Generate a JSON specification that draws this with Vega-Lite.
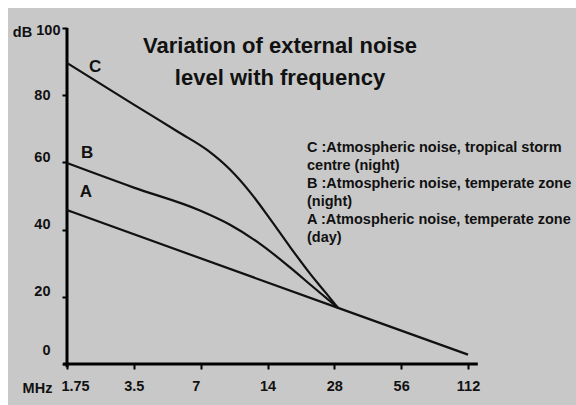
{
  "$schema": "https://vega.github.io/schema/vega-lite/v6.json",
  "width": 568,
  "height": 397,
  "autosize": {"type": "none"},
  "padding": {"left": 8, "top": 8, "right": 0, "bottom": 0},
  "background": "white",
  "config": {
    "view": {"fill": "#c8c8c8", "stroke": null},
    "font": "Liberation Sans"
  },
  "title": {
    "text": ["Variation of external noise", "level with frequency"],
    "anchor": "middle",
    "frame": "group",
    "font": "Liberation Sans",
    "fontSize": 22,
    "fontWeight": "bold",
    "color": "#111111",
    "lineHeight": 32,
    "baseline": "top",
    "offset": 0,
    "dx": -12,
    "dy": 82
  },
  "datasets": {
    "curves": [
      {"series": "A", "f": 1.75, "db": 45.8},
      {"series": "A", "f": 29.1, "db": 16.7},
      {"series": "A", "f": 112, "db": 2.8},
      {"series": "B", "f": 1.75, "db": 59.8},
      {"series": "B", "f": 3.5, "db": 52.5},
      {"series": "B", "f": 6.95, "db": 45.68},
      {"series": "B", "f": 9.49, "db": 41.44},
      {"series": "B", "f": 12.96, "db": 35.77},
      {"series": "B", "f": 17.68, "db": 28.76},
      {"series": "B", "f": 22.68, "db": 22.69},
      {"series": "B", "f": 29.1, "db": 16.7},
      {"series": "C", "f": 1.75, "db": 89.6},
      {"series": "C", "f": 3.5, "db": 77.2},
      {"series": "C", "f": 5.6, "db": 68.9},
      {"series": "C", "f": 7.48, "db": 63.7},
      {"series": "C", "f": 9.49, "db": 57.86},
      {"series": "C", "f": 11.68, "db": 51.16},
      {"series": "C", "f": 14.37, "db": 43.21},
      {"series": "C", "f": 17.68, "db": 34.88},
      {"series": "C", "f": 21.76, "db": 26.9},
      {"series": "C", "f": 25.42, "db": 21.46},
      {"series": "C", "f": 29.1, "db": 16.7}
    ],
    "labels": [
      {"label": "C", "f": 2.34, "db": 88.4},
      {"label": "B", "f": 2.154, "db": 62.8},
      {"label": "A", "f": 2.131, "db": 51.2}
    ],
    "notes": [
      {"note": ["C :Atmospheric noise, tropical storm", "centre (night)", "B :Atmospheric noise, temperate zone", "(night)", "A :Atmospheric noise, temperate zone", "(day)"], "f": 21.09, "db": 66.5}
    ],
    "yline": [{"f": 1.75, "db": -1, "db2": 100}],
    "xline": [{"f": 1.68, "f2": 124, "db": 0}]
  },
  "encoding": {
    "x": {
      "field": "f",
      "type": "quantitative",
      "scale": {"type": "log", "domain": [0.949, 343.3], "nice": false, "zero": false},
      "axis": {
        "values": [1.75, 3.5, 7, 14, 28, 56, 112],
        "labelExpr": "'' + datum.value",
        "domain": false,
        "grid": false,
        "offset": -41,
        "tickSize": 5,
        "tickWidth": 2,
        "tickColor": "black",
        "labelFont": "Liberation Sans",
        "labelFontWeight": "bold",
        "labelFontSize": 14.5,
        "labelColor": "#111111",
        "labelPadding": 10,
        "labelFlush": false,
        "labelOverlap": false,
        "labelOffset": {"condition": [{"test": "datum.value == 1.75", "value": 8}, {"test": "datum.value == 7", "value": -5}], "value": 0},
        "title": "MHz",
        "titleFont": "Liberation Sans",
        "titleFontWeight": "bold",
        "titleFontSize": 14.5,
        "titleColor": "#111111",
        "titleX": 29,
        "titleY": 24,
        "titleAlign": "center",
        "titleBaseline": "middle"
      }
    },
    "y": {
      "field": "db",
      "type": "quantitative",
      "scale": {"domain": [-12.2, 105.95], "nice": false, "zero": false},
      "axis": {
        "values": [0, 20, 40, 60, 80, 100],
        "domain": false,
        "grid": false,
        "offset": -59,
        "tickSize": 5,
        "tickWidth": 2,
        "tickColor": "black",
        "labelFont": "Liberation Sans",
        "labelFontWeight": "bold",
        "labelFontSize": 14.5,
        "labelColor": "#111111",
        "labelPadding": {"condition": {"test": "datum.value == 100", "value": 2}, "value": 12},
        "labelOffset": {"condition": [{"test": "datum.value == 0", "value": -14}, {"test": "datum.value == 100", "value": 3}, {"test": "datum.value == 80", "value": 0}], "value": -5},
        "labelFlush": false,
        "labelOverlap": false,
        "title": "dB",
        "titleFont": "Liberation Sans",
        "titleFontWeight": "bold",
        "titleFontSize": 14.5,
        "titleColor": "#111111",
        "titleAngle": 0,
        "titleX": -45,
        "titleY": 24,
        "titleAlign": "center",
        "titleBaseline": "middle"
      }
    }
  },
  "layer": [
    {
      "data": {"name": "yline"},
      "mark": {"type": "rule", "color": "black", "strokeWidth": 3},
      "encoding": {
        "y2": {"field": "db2"}
      }
    },
    {
      "data": {"name": "xline"},
      "mark": {"type": "rule", "color": "black", "strokeWidth": 3},
      "encoding": {
        "x2": {"field": "f2"}
      }
    },
    {
      "data": {"name": "curves"},
      "mark": {"type": "line", "color": "#111111", "strokeWidth": 2.2, "interpolate": "monotone"},
      "encoding": {
        "detail": {"field": "series", "type": "nominal"}
      }
    },
    {
      "data": {"name": "labels"},
      "mark": {"type": "text", "font": "Liberation Sans", "fontWeight": "bold", "fontSize": 17, "color": "#111111", "align": "center", "baseline": "middle"},
      "encoding": {
        "text": {"field": "label", "type": "nominal"}
      }
    },
    {
      "data": {"name": "notes"},
      "mark": {"type": "text", "font": "Liberation Sans", "fontWeight": "bold", "fontSize": 14.5, "color": "#111111", "align": "left", "baseline": "top", "lineHeight": 18},
      "encoding": {
        "text": {"field": "note", "type": "nominal"}
      }
    }
  ]
}
